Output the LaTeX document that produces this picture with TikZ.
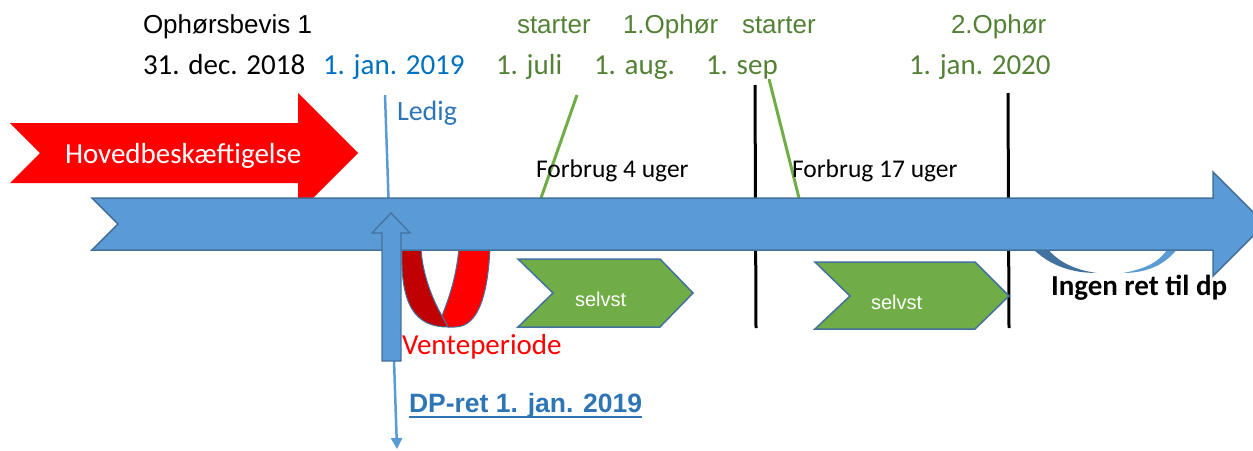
\documentclass[tikz,border=0pt]{standalone}
\usepackage{fontspec}
\setmainfont{Liberation Sans}
\newfontfamily\calfont{Carlito}
\usetikzlibrary{arrows.meta}
\definecolor{arrblue}{HTML}{5B9BD5}
\definecolor{edgeblue}{HTML}{41719C}
\definecolor{txtblue}{HTML}{0070C0}
\definecolor{ledblue}{HTML}{2E75B6}
\definecolor{dkgreen}{HTML}{538135}
\definecolor{ltgreen}{HTML}{70AD47}
\definecolor{dkred}{HTML}{C00000}
\begin{document}
\begin{tikzpicture}[x=1pt,y=-1pt,
  lbl/.style={anchor=base west, inner sep=0pt, outer sep=0pt},
  ar/.style={lbl, font=\fontsize{26}{30}\selectfont},
  ca/.style={lbl, font=\calfont\fontsize{29}{34}\selectfont},
  cas/.style={lbl, font=\calfont\fontsize{25.5}{30}\selectfont},
  chev/.style={fill=ltgreen, draw=edgeblue, line width=1.5pt, line join=miter},
  bigarrow/.style={fill=arrblue, draw=edgeblue, line width=1.5pt},
  mark line/.style={line width=3pt},
]
\useasboundingbox (0,0) rectangle (1253,450);

% thin blue "Ledig" line with arrow down
\coordinate (ledtop) at (385,95);
\coordinate (ledbot) at (397,449);
\draw[arrblue, line width=2.5pt, -{Triangle[length=11pt,width=11pt]}] (ledtop) -- (ledbot);

% green marker lines
\coordinate (g1a) at (577,95);  \coordinate (g1b) at (541,198);
\coordinate (g2a) at (769,79);  \coordinate (g2b) at (799,198);
\draw[ltgreen, mark line] (g1a) -- (g1b);
\draw[ltgreen, mark line] (g2a) -- (g2b);

% black marker lines
\coordinate (k1a) at (755,85);  \coordinate (k1b) at (756,328);
\coordinate (k2a) at (1008,93); \coordinate (k2b) at (1009,328);
\draw[black, mark line] (k1a) -- (k1b);
\draw[black, mark line] (k2a) -- (k2b);

% red arrow
\fill[red] (10,123) -- (298,123) -- (298,93) -- (358,153) -- (298,213) -- (298,183) -- (10,183) -- (40,153) -- cycle;

% blue crescent under arrow end
\fill[edgeblue] (1032,248) .. controls (1050,266) and (1072,273) .. (1097,273)
  .. controls (1075,270) and (1058,262) .. (1047,248) -- cycle;
\fill[arrblue] (1178,248) .. controls (1166,264) and (1148,273) .. (1123,273)
  .. controls (1145,269) and (1160,262) .. (1168,248) -- cycle;

% red U (venteperiode)
\filldraw[fill=dkred, draw=edgeblue, line width=1pt]
  (402,248) .. controls (400,305) and (415,327) .. (448,327) -- (442,316)
  .. controls (430,295) and (422,270) .. (421,248) -- cycle;
\filldraw[fill=red, draw=edgeblue, line width=1pt]
  (459,248) .. controls (456,280) and (448,300) .. (442,316) -- (448,327) -- (455,327)
  .. controls (480,327) and (488,290) .. (490,248) -- cycle;

% main timeline arrow
\draw[bigarrow] (92,198) -- (1213,198) -- (1213,172) -- (1265,224) -- (1213,276)
  -- (1213,250) -- (92,250) -- (118,224) -- cycle;

% up arrow
\draw[bigarrow, line width=1.2pt] (382,361) -- (382,233) -- (372,233) -- (391,213) -- (410,233)
  -- (401,233) -- (401,361) -- cycle;

% selvst chevrons
\draw[chev] (518,259) -- (660,259) -- (693,293) -- (660,327) -- (518,327) -- (553,293) -- cycle;
\draw[chev] (815,262) -- (975,262) -- (1009,296) -- (975,329) -- (815,329) -- (850,296) -- cycle;
\node[lbl, white, font=\fontsize{20}{24}\selectfont] (s1) at (575,306) {selvst};
\node[lbl, white, font=\fontsize{20}{24}\selectfont] (s2) at (871,309) {selvst};

% texts
\node[ar, black] (oph) at (143,33) {Ophørsbevis 1};
\node[ca, black] (d31) at (143,74) {31. dec. 2018};
\node[ca, txtblue] (j19) at (323,74) {1. jan. 2019};
\node[ca, dkgreen] (jul) at (496,74) {1. juli};
\node[ca, dkgreen] (aug) at (594,74) {1. aug.};
\node[ca, dkgreen] (sep) at (706,74) {1. sep};
\node[ca, dkgreen] (j20) at (909,74) {1. jan. 2020};
\node[ar, dkgreen] (st1) at (517,33) {starter};
\node[ar, dkgreen] (op1) at (623,33) {1.Ophør};
\node[ar, dkgreen] (st2) at (742,33) {starter};
\node[ar, dkgreen] (op2) at (951,33) {2.Ophør};
\node[ca, ledblue, font=\calfont\fontsize{28}{32}\selectfont] (led) at (397,120) {Ledig};
\node[ca, white] (hov) at (65,163) {Hovedbeskæftigelse};
\node[cas, black] (f4) at (536,177) {Forbrug 4 uger};
\node[cas, black] (f17) at (792,177) {Forbrug 17 uger};
\node[ca, red] (vent) at (402,354) {Venteperiode};
\node[lbl, ledblue, font=\bfseries\fontsize{26.5}{30}\selectfont] (dp) at (409,412) {DP-ret 1. jan. 2019};
\draw[ledblue, line width=2.5pt] ([yshift=-5pt]dp.base west) -- ([yshift=-5pt]dp.base east);
\node[ca, black, font=\calfont\bfseries\fontsize{29}{34}\selectfont] (ingen) at (1051,295) {Ingen ret til dp};
\end{tikzpicture}
\end{document}
